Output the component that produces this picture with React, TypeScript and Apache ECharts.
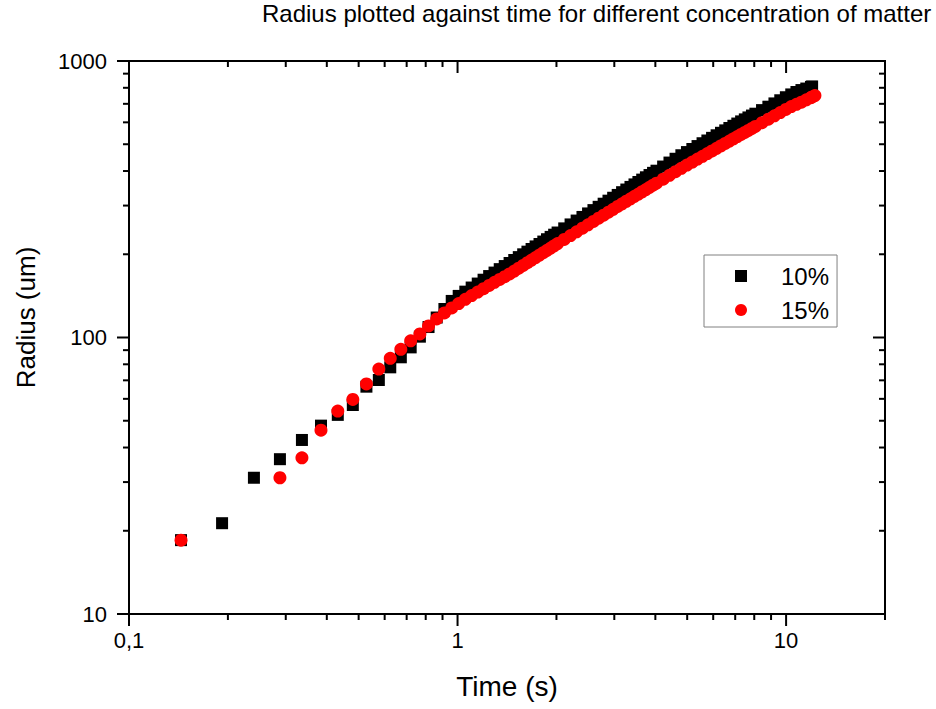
import React, { useEffect, useRef } from "react";
import * as echarts from "echarts";

// ---- data ----
const titleText = "Radius plotted against time for different concentration of matter";
const xAxisName = "Time (s)";
const yAxisName = "Radius (um)";
const seriesNames = ["10%", "15%"];

const blackTime = [
  0.144, 0.192, 0.24, 0.288, 0.336, 0.384, 0.432, 0.48, 0.528, 0.576, 0.624, 0.672, 0.72, 0.768, 0.816, 0.864, 0.912,
  0.96, 1.008, 1.056, 1.104, 1.152, 1.2, 1.248, 1.296, 1.344, 1.392, 1.44, 1.488, 1.536, 1.584, 1.632, 1.68, 1.728, 1.776, 1.824, 1.872, 1.92, 1.968, 2.016,
  2.112, 2.208, 2.304, 2.4, 2.496, 2.592, 2.688, 2.784, 2.88, 2.976, 3.072, 3.168, 3.264, 3.36, 3.456, 3.552, 3.648, 3.744, 3.84, 3.936, 4.032,
  4.224, 4.416, 4.608, 4.8, 4.992, 5.184, 5.376, 5.568, 5.76, 5.952, 6.144, 6.336, 6.528, 6.72, 6.912, 7.104, 7.296, 7.488, 7.68, 7.872, 8.064,
  8.448, 8.832, 9.216, 9.6, 9.984, 10.368, 10.752, 11.136, 11.52, 11.904, 12.0,
];
const blackRadius = [
  18.5, 21.3, 31.1, 36.3, 42.6, 48.0, 52.5, 57.0, 66.4, 70.2, 78.0, 84.8, 92.1, 100.7, 109.1, 118.1, 126.8,
  135.6, 141.4, 146.5, 151.6, 156.7, 161.8, 166.8, 171.7, 176.7, 181.3, 186.0, 190.7, 195.3, 199.9, 204.4, 209.0, 213.5, 217.8, 222.3, 226.7, 231.1, 235.4, 239.7,
  248.1, 256.4, 264.8, 272.9, 281.0, 288.9, 296.9, 304.7, 312.5, 320.2, 327.8, 335.4, 342.9, 350.4, 357.8, 365.1, 372.4, 379.7, 386.9, 394.0, 401.1,
  415.2, 429.2, 443.0, 456.2, 468.4, 480.5, 492.4, 504.2, 515.8, 527.3, 538.7, 550.0, 561.2, 572.3, 583.1, 594.0, 604.7, 614.9, 625.0, 634.9, 644.8,
  664.3, 683.5, 702.4, 721.1, 739.5, 757.0, 772.4, 785.0, 795.0, 806.0, 809.0,
];

const redTime = [
  0.144, 0.288, 0.336, 0.384, 0.432, 0.48, 0.528, 0.576, 0.624, 0.672, 0.72, 0.768, 0.816, 0.864, 0.912,
  0.96, 1.008, 1.056, 1.104, 1.152, 1.2, 1.248, 1.296, 1.344, 1.392, 1.44, 1.488, 1.536, 1.584, 1.632, 1.68, 1.728, 1.776, 1.824, 1.872, 1.92, 1.968, 2.016,
  2.112, 2.208, 2.304, 2.4, 2.496, 2.592, 2.688, 2.784, 2.88, 2.976, 3.072, 3.168, 3.264, 3.36, 3.456, 3.552, 3.648, 3.744, 3.84, 3.936, 4.032,
  4.224, 4.416, 4.608, 4.8, 4.992, 5.184, 5.376, 5.568, 5.76, 5.952, 6.144, 6.336, 6.528, 6.72, 6.912, 7.104, 7.296, 7.488, 7.68, 7.872, 8.064,
  8.448, 8.832, 9.216, 9.6, 9.984, 10.368, 10.752, 11.136, 11.52, 11.904, 12.0, 12.24,
];
const redRadius = [
  18.5, 31.1, 36.7, 46.2, 54.2, 59.7, 67.9, 76.9, 84.1, 90.6, 97.3, 103.0, 110.1, 116.7, 122.7,
  127.9, 132.7, 137.5, 141.8, 146.0, 150.1, 154.2, 158.3, 162.2, 166.0, 169.8, 173.9, 178.1, 182.3, 186.4, 190.5, 194.6, 198.7, 202.7, 206.7, 210.7, 214.6, 218.6,
  226.2, 233.8, 241.2, 248.4, 255.7, 262.9, 270.0, 277.0, 284.0, 290.9, 297.8, 304.5, 311.0, 317.5, 323.9, 330.3, 336.6, 342.9, 349.1, 355.4, 361.5,
  373.7, 385.8, 397.7, 409.3, 420.2, 431.0, 441.8, 452.3, 462.7, 473.1, 483.3, 493.4, 503.4, 513.3, 523.2, 532.9, 542.5, 551.9, 561.1, 570.5, 579.7,
  598.1, 616.0, 633.8, 651.2, 668.4, 684.5, 697.0, 710.0, 724.0, 737.0, 741.0, 750.0,
];

const xRange = [0.1, 20];
const yRange = [10, 1000];
const xMajorTicks = [0.1, 1, 10];
const xTickLabels = ["0,1", "1", "10"];
const xMinorTicks = [0.2, 0.3, 0.4, 0.5, 0.6, 0.7, 0.8, 0.9, 2, 3, 4, 5, 6, 7, 8, 9, 20];
const yMajorTicks = [10, 100, 1000];
const yTickLabels = ["10", "100", "1000"];
const yMinorTicks = [20, 30, 40, 50, 60, 70, 80, 90, 200, 300, 400, 500, 600, 700, 800, 900];

// ---- styling ----
const FONT = "'Liberation Sans', Arial, sans-serif";
const MAJOR_LEN = 12;
const MINOR_LEN = 6;
const TICK_W = 2;

function zip(a: number[], b: number[]) {
  const n = Math.min(a.length, b.length);
  const out: number[][] = [];
  for (let i = 0; i < n; i++) out.push([a[i], b[i]]);
  return out;
}

function labelFor(v: number, ticks: number[], labels: string[]) {
  for (let i = 0; i < ticks.length; i++) {
    if (Math.abs(Math.log10(v) - Math.log10(ticks[i])) < 1e-6) return labels[i];
  }
  return "";
}

export default function App() {
  const ref = useRef<HTMLDivElement>(null);

  useEffect(() => {
    if (!ref.current) return;
    const chart = echarts.init(ref.current, undefined, { renderer: "svg" });

    const xTickData = [
      ...xMajorTicks.map((v) => [v, yRange[0], 1]),
      ...xMinorTicks.map((v) => [v, yRange[0], 0]),
    ];
    const yTickData = [
      ...yMajorTicks.map((v) => [xRange[0], v, 1]),
      ...yMinorTicks.map((v) => [xRange[0], v, 0]),
    ];
    const lineStyle = { stroke: "#000", lineWidth: TICK_W };

    const option: any = {
      animation: false,
      backgroundColor: "#fff",
      title: {
        text: titleText,
        left: 262,
        top: 1,
        padding: 0,
        textStyle: { fontFamily: FONT, fontSize: 24, fontWeight: "normal", color: "#000" },
      },
      grid: {
        left: 129,
        right: 51,
        top: 61,
        bottom: 95,
        show: true,
        borderColor: "#000",
        borderWidth: 2,
        backgroundColor: "transparent",
      },
      legend: {
        orient: "vertical",
        left: 704,
        top: 255,
        borderColor: "#808080",
        borderWidth: 1,
        padding: [9, 8, 5, 31],
        itemWidth: 12,
        itemHeight: 12,
        itemGap: 10,
        textStyle: {
          fontFamily: FONT,
          fontSize: 24,
          lineHeight: 24,
          color: "#000",
          padding: [0, 0, 0, 29],
        },
        data: [
          { name: seriesNames[0], icon: "rect", itemStyle: { opacity: 1 } },
          { name: seriesNames[1], icon: "circle", itemStyle: { opacity: 1 } },
        ],
      },
      xAxis: {
        type: "log",
        logBase: 10,
        min: xRange[0],
        max: xRange[1],
        name: xAxisName,
        nameLocation: "middle",
        nameGap: 58,
        nameTextStyle: { fontFamily: FONT, fontSize: 28, color: "#000" },
        axisLine: { show: false },
        axisTick: { show: false },
        splitLine: { show: false },
        axisLabel: {
          margin: 15,
          fontFamily: FONT,
          fontSize: 22,
          color: "#000",
          formatter: (v: number) => labelFor(v, xMajorTicks, xTickLabels),
        },
      },
      yAxis: {
        type: "log",
        logBase: 10,
        min: yRange[0],
        max: yRange[1],
        name: yAxisName,
        nameLocation: "middle",
        nameGap: 90,
        nameRotate: 90,
        nameTextStyle: { fontFamily: FONT, fontSize: 26, color: "#000", padding: [0, 0, 0, 40] },
        axisLine: { show: false },
        axisTick: { show: false },
        splitLine: { show: false },
        axisLabel: {
          margin: 22,
          fontFamily: FONT,
          fontSize: 22,
          color: "#000",
          formatter: (v: number) => labelFor(v, yMajorTicks, yTickLabels),
        },
      },
      series: [
        {
          name: seriesNames[0],
          type: "scatter",
          symbol: "rect",
          symbolSize: 12,
          itemStyle: { color: "#000000", opacity: 1 },
          data: zip(blackTime, blackRadius),
          silent: true,
          z: 2,
        },
        {
          name: seriesNames[1],
          type: "scatter",
          symbol: "circle",
          symbolSize: 13,
          itemStyle: { color: "#ff0000", opacity: 1 },
          data: zip(redTime, redRadius),
          silent: true,
          z: 3,
        },
        {
          type: "custom",
          silent: true,
          clip: false,
          z: 10,
          dimensions: ["x", "y", "major"],
          encode: { x: 0, y: 1 },
          data: xTickData,
          renderItem: (params: any, api: any) => {
            const v = api.value(0);
            const len = api.value(2) === 1 ? MAJOR_LEN : MINOR_LEN;
            const b = api.coord([v, yRange[0]]);
            const t = api.coord([v, yRange[1]]);
            return {
              type: "group",
              children: [
                { type: "line", shape: { x1: b[0], y1: b[1], x2: b[0], y2: b[1] + len }, style: lineStyle },
                { type: "line", shape: { x1: t[0], y1: t[1], x2: t[0], y2: t[1] + len }, style: lineStyle },
              ],
            };
          },
        },
        {
          type: "custom",
          silent: true,
          clip: false,
          z: 10,
          dimensions: ["x", "y", "major"],
          encode: { x: 0, y: 1 },
          data: yTickData,
          renderItem: (params: any, api: any) => {
            const v = api.value(1);
            const len = api.value(2) === 1 ? MAJOR_LEN : MINOR_LEN;
            const l = api.coord([xRange[0], v]);
            const r = api.coord([xRange[1], v]);
            return {
              type: "group",
              children: [
                { type: "line", shape: { x1: l[0], y1: l[1], x2: l[0] - len, y2: l[1] }, style: lineStyle },
                { type: "line", shape: { x1: r[0], y1: r[1], x2: r[0] - len, y2: r[1] }, style: lineStyle },
              ],
            };
          },
        },
      ],
    };

    chart.setOption(option);
    return () => chart.dispose();
  }, []);

  return (
    <div
      ref={ref}
      style={{ position: "absolute", left: 0, top: 0, width: 936, height: 709, background: "#fff" }}
    />
  );
}
